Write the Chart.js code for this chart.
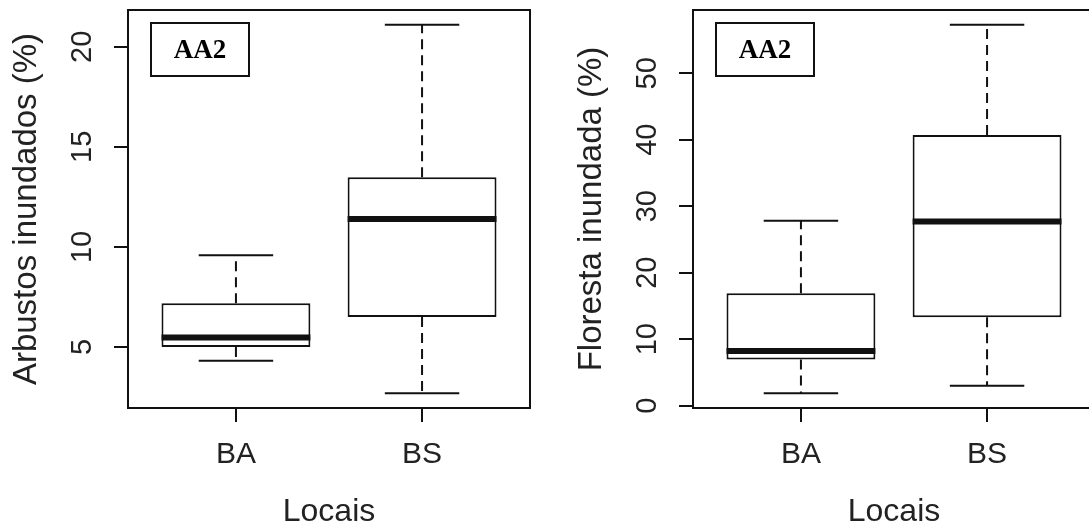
<!DOCTYPE html>
<html>
<head>
<meta charset="utf-8">
<script src="https://cdn.jsdelivr.net/npm/chart.js@4.4.0/dist/chart.umd.min.js"></script>
<style>
html, body { margin: 0; padding: 0; background: #fff; overflow: hidden; width: 1089px; height: 525px; }
#chart-arbustos { position: absolute; left: 0; top: 0; }
#chart-floresta { position: absolute; left: 565px; top: 0; }
</style>
</head>
<body>
<canvas id="chart-arbustos" width="545" height="525"></canvas>
<canvas id="chart-floresta" width="545" height="525"></canvas>
<script>
// Locais (categories) and their positions on the x axis
var locais = ['BA', 'BS'];
var locaisPos = [1, 2];

// Arbustos inundados (%)
var arbLower  = [4.32, 2.69];
var arbQ1     = [5.0, 6.5];
var arbMedian = [5.47, 11.39];
var arbQ3     = [7.19, 13.48];
var arbUpper  = [9.59, 21.1];
var arbTicks  = [5, 10, 15, 20];

// Floresta inundada (%)
var florLower  = [1.86, 3.0];
var florQ1     = [6.95, 13.3];
var florMedian = [8.2, 27.7];
var florQ3     = [16.9, 40.7];
var florUpper  = [27.8, 57.3];
var florTicks  = [0, 10, 20, 30, 40, 50];

var LINE = '#111';
var TEXT = '#222';
Chart.defaults.font.family = 'Liberation Sans';

function seg(ctx, x1, y1, x2, y2) {
	ctx.beginPath();
	ctx.moveTo(x1, y1);
	ctx.lineTo(x2, y2);
	ctx.stroke();
}

// whiskers, caps, medians, frame and the AA2 tag, all placed through the chart scales
var rBoxPlugin = {
	id: 'rbox',
	beforeDatasetsDraw: function(chart, args, opts) {
		var xs = chart.scales.x, ys = chart.scales.y, ctx = chart.ctx;
		ctx.save();
		ctx.strokeStyle = LINE;
		ctx.lineWidth = 2;
		for (var i = 0; i < opts.pos.length; i++) {
			var cx = xs.getPixelForValue(opts.pos[i]);
			var half = xs.getPixelForValue(opts.pos[i] + 0.2) - cx;
			var yUp = ys.getPixelForValue(opts.upper[i]);
			var yLo = ys.getPixelForValue(opts.lower[i]);
			ctx.setLineDash([10, 6]);
			seg(ctx, cx, ys.getPixelForValue(opts.q3[i]), cx, yUp);
			seg(ctx, cx, ys.getPixelForValue(opts.q1[i]), cx, yLo);
			ctx.setLineDash([]);
			seg(ctx, cx - half, yUp, cx + half, yUp);
			seg(ctx, cx - half, yLo, cx + half, yLo);
		}
		ctx.restore();
	},
	afterDatasetsDraw: function(chart, args, opts) {
		var xs = chart.scales.x, ys = chart.scales.y, ctx = chart.ctx;
		var area = chart.chartArea;
		ctx.save();
		ctx.strokeStyle = LINE;
		ctx.lineCap = 'butt';
		ctx.lineWidth = 6;
		for (var i = 0; i < opts.pos.length; i++) {
			var ym = ys.getPixelForValue(opts.median[i]);
			seg(ctx, xs.getPixelForValue(opts.pos[i] - 0.4), ym, xs.getPixelForValue(opts.pos[i] + 0.4), ym);
		}
		// frame
		ctx.lineWidth = 2;
		ctx.strokeRect(area.left, area.top, area.right - area.left, area.bottom - area.top);
		// tag
		var bx = area.left + 23, by = area.top + 13;
		ctx.strokeRect(bx, by, 98, 53);
		ctx.fillStyle = '#000';
		ctx.font = 'bold 27px "Liberation Serif"';
		ctx.textAlign = 'center';
		ctx.textBaseline = 'middle';
		ctx.fillText(opts.tag, bx + 49, by + 28);
		ctx.restore();
	}
};

function rRange(lo, hi) {
	var d = (hi - lo) * 0.04;
	return [lo - d, hi + d];
}

function makeBoxChart(canvasId, yTitle, lower, q1, median, q3, upper, yTicks) {
	var yr = rRange(Math.min.apply(null, lower), Math.max.apply(null, upper));
	var xr = rRange(locaisPos[0] - 0.5, locaisPos[locaisPos.length - 1] + 0.5);
	var ctx = document.getElementById(canvasId).getContext('2d');
	return new Chart(ctx, {
		type: 'bar',
		data: {
			datasets: [{
				data: locaisPos.map(function(p, i) { return { x: p, y: [q1[i], q3[i]] }; }),
				backgroundColor: '#fff',
				borderColor: LINE,
				borderWidth: 2,
				borderSkipped: false,
				barPercentage: 0.8,
				categoryPercentage: 1.0
			}]
		},
		options: {
			responsive: false,
			maintainAspectRatio: false,
			animation: false,
			layout: { padding: { top: 10, right: 15, left: 0, bottom: 0 } },
			plugins: {
				legend: { display: false },
				tooltip: { enabled: false },
				rbox: { pos: locaisPos, lower: lower, q1: q1, median: median, q3: q3, upper: upper, tag: 'AA2' }
			},
			scales: {
				x: {
					type: 'linear',
					min: xr[0],
					max: xr[1],
					offset: false,
					afterBuildTicks: function(s) { s.ticks = locaisPos.map(function(v) { return { value: v }; }); },
					afterFit: function(s) { s.height = 117; s.paddingLeft = 0; s.paddingRight = 0; },
					ticks: {
						callback: function(v, i) { return locais[i]; },
						font: { size: 30 },
						color: TEXT,
						padding: 15,
						autoSkip: false,
						maxRotation: 0
					},
					grid: { offset: false, drawOnChartArea: false, drawTicks: true, tickLength: 14, color: LINE, lineWidth: 2 },
					border: { display: false },
					title: { display: true, text: 'Locais', color: TEXT, font: { size: 32, lineHeight: 1 }, padding: { top: 0, bottom: -3 } }
				},
				y: {
					type: 'linear',
					min: yr[0],
					max: yr[1],
					beginAtZero: false,
					afterBuildTicks: function(s) { s.ticks = yTicks.map(function(v) { return { value: v }; }); },
					afterFit: function(s) { s.width = 128; s.paddingTop = 0; s.paddingBottom = 0; },
					ticks: {
						minRotation: 90,
						maxRotation: 90,
						crossAlign: 'center',
						font: { size: 29 },
						color: TEXT,
						padding: 15,
						autoSkip: false
					},
					grid: { drawOnChartArea: false, drawTicks: true, tickLength: 14, color: LINE, lineWidth: 2 },
					border: { display: false },
					title: { display: true, text: yTitle, color: TEXT, font: { size: 33, lineHeight: 1 }, padding: { top: 10, bottom: 0 } }
				}
			}
		},
		plugins: [rBoxPlugin]
	});
}

window.addEventListener('load', function() {
	makeBoxChart('chart-arbustos', 'Arbustos inundados (%)', arbLower, arbQ1, arbMedian, arbQ3, arbUpper, arbTicks);
	makeBoxChart('chart-floresta', 'Floresta inundada (%)', florLower, florQ1, florMedian, florQ3, florUpper, florTicks);
});
</script>
</body>
</html>
